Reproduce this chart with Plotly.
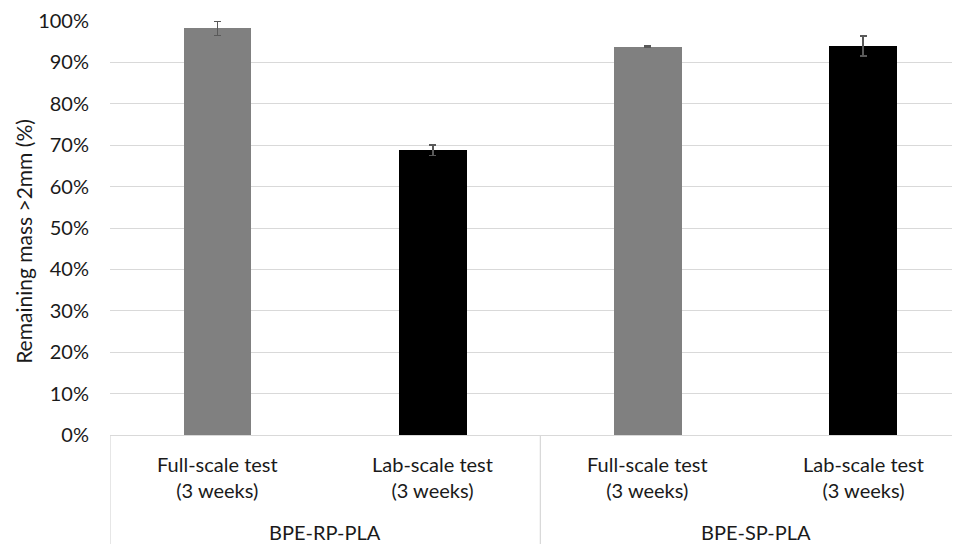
import plotly.graph_objects as go

# ---- data ----
groups = ["BPE-RP-PLA", "BPE-SP-PLA"]
tests = ["Full-scale test<br>(3 weeks)", "Lab-scale test<br>(3 weeks)"]
values = [98.2, 68.8, 93.8, 94.0]          # remaining mass >2mm (%)
errors = [1.7, 1.3, 0.2, 2.4]
y_ticks = [0, 10, 20, 30, 40, 50, 60, 70, 80, 90, 100]
y_title = "Remaining mass >2mm (%)"

# ---- style ----
bar_colors = ["#808080", "#000000", "#808080", "#000000"]
FONT = "Lato"
TXT = "#1a1a1a"
LINE = "#d9d9d9"

# page has an 8px body margin; compensate
OFF = 8
W, H = 960 - OFF, 544 - OFF
L, T, B = 102, 9, 109
ph = H - T - B

def py(page_y):
    return (H - B - (page_y - OFF)) / ph

n_sub = len(tests)
xpos = list(range(len(values)))

fig = go.Figure()
fig.add_trace(go.Bar(
    x=xpos, y=values, width=0.315,
    marker=dict(color=bar_colors, line=dict(width=0)),
    error_y=dict(type="data", array=errors, visible=True,
                 color="#595959", thickness=1.6, width=3.5),
    showlegend=False, hoverinfo="y",
))

annotations = []
for gi, g in enumerate(groups):
    for si, t in enumerate(tests):
        annotations.append(dict(
            x=gi * n_sub + si, y=py(477.5), xref="x", yref="paper",
            text=t, showarrow=False, xanchor="center", yanchor="middle",
            font=dict(family=FONT, size=20, color=TXT),
        ))
    annotations.append(dict(
        x=gi * n_sub + (n_sub - 1) / 2, y=py(533), xref="x", yref="paper",
        text=g, showarrow=False, xanchor="center", yanchor="middle",
        font=dict(family=FONT, size=20, color=TXT),
    ))
# y-axis title
annotations.append(dict(
    x=0, xref="paper", xshift=-(L - (24 - OFF)), xanchor="center",
    y=py(240), yref="paper", yanchor="middle",
    text=y_title, textangle=-90, showarrow=False,
    font=dict(family=FONT, size=21, color=TXT),
))

shapes = []
for k in range(len(groups) + 1):
    xd = k * n_sub - 0.5
    shapes.append(dict(type="line", xref="x", yref="paper",
                       x0=xd, x1=xd, y0=0, y1=py(550),
                       line=dict(color=LINE, width=1.3)))

fig.update_layout(
    width=W, height=H,
    margin=dict(l=L, r=0, t=T, b=B),
    paper_bgcolor="white", plot_bgcolor="white",
    font=dict(family=FONT, size=20, color=TXT),
    annotations=annotations, shapes=shapes,
    bargap=0,
)
fig.update_xaxes(
    range=[-0.5, 3.45], showticklabels=False, showgrid=False,
    zeroline=False, showline=True, linecolor=LINE, linewidth=1.3,
    ticks="", fixedrange=True,
)
fig.update_yaxes(
    range=[0, 100], tickvals=y_ticks,
    ticktext=[f"{v}%" for v in y_ticks],
    showgrid=True, gridcolor=LINE, gridwidth=1,
    zeroline=False, showline=False, ticks="", ticklabelstandoff=20,
    ticklabeloverflow="allow",
    tickfont=dict(family=FONT, size=20, color=TXT),
    fixedrange=True,
)

fig.write_html("out.html")
